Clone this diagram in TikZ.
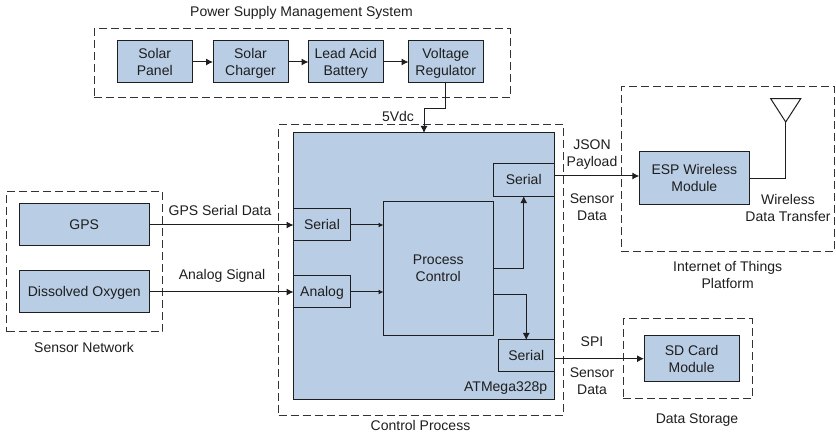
\documentclass[tikz,border=0pt]{standalone}
\usepackage{fontspec}
\setmainfont{Liberation Sans}
\usetikzlibrary{arrows.meta}
\definecolor{boxfill}{HTML}{B9CDE5}
\definecolor{ink}{HTML}{1E1E1E}
\definecolor{dashink}{HTML}{333333}
\newcommand\st{\vrule height 13.2pt depth 3.8pt width 0pt\relax}
\tikzset{
  every node/.style={inner sep=0pt,outer sep=0pt},
  box/.style={draw=ink,fill=boxfill,line width=1pt,align=center,text=ink,font=\fontsize{14}{17}\selectfont},
  group/.style={draw=dashink,line width=1pt,dash pattern=on 8pt off 4pt},
  lbl/.style={align=center,text=ink,font=\fontsize{14}{17}\selectfont},
  conn/.style={draw=ink,line width=1pt,-{Latex[length=7pt,width=7pt]}},
  connsm/.style={draw=ink,line width=1pt,-{Latex[length=5pt,width=5pt]}},
  plain/.style={draw=ink,line width=1pt},
}
\begin{document}
\begin{tikzpicture}[x=1pt,y=-1pt]
\useasboundingbox (0,0) rectangle (836,438);
% groups
\node[group,minimum width=416pt,minimum height=69pt] (gpower) at (302,63.5) {};
\node[group,minimum width=284.5pt,minimum height=291pt] (gctrl) at (420.75,270.5) {};
\node[group,minimum width=156pt,minimum height=140.5pt] (gsens) at (84.5,261.75) {};
\node[group,minimum width=213.3pt,minimum height=165.3pt] (giot) at (727.65,169.35) {};
\node[group,minimum width=129pt,minimum height=80pt] (gsd) at (687.8,359) {};
% boxes
\node[box,minimum width=74.5pt,minimum height=42pt] (panel) at (154.75,62) {\st Solar\\\st Panel};
\node[box,minimum width=75pt,minimum height=42pt] (charger) at (250.5,62) {\st Solar\\\st Charger};
\node[box,minimum width=74.5pt,minimum height=42pt] (battery) at (345.75,62) {\st Lead Acid\\\st Battery};
\node[box,minimum width=74.5pt,minimum height=42pt] (reg) at (445.75,62) {\st Voltage\\\st Regulator};
\node[box,minimum width=261pt,minimum height=267pt] (mcu) at (424,266.5) {};
\node[box,minimum width=129.5pt,minimum height=42pt] (gps) at (84.25,225) {\st GPS};
\node[box,minimum width=129.5pt,minimum height=42pt] (oxy) at (84.25,292) {\st Dissolved Oxygen};
\node[box,minimum width=57pt,minimum height=32pt] (serA) at (322,225) {\st Serial};
\node[box,minimum width=57pt,minimum height=32pt] (ana) at (322,292) {\st Analog};
\node[box,minimum width=109.5pt,minimum height=134pt] (proc) at (438.25,268.5) {\st Process\\\st Control};
\node[box,minimum width=61.5pt,minimum height=32.5pt] (serB) at (523.75,179.9) {\st Serial};
\node[box,minimum width=56.5pt,minimum height=32pt] (serC) at (526.25,356) {\st Serial};
\node[box,minimum width=110pt,minimum height=53.3pt] (esp) at (694.3,178.35) {\st ESP Wireless\\\st Module};
\node[box,minimum width=95.3pt,minimum height=46.3pt] (sd) at (691.65,358.85) {\st SD Card\\\st Module};
% antenna
\coordinate (antTip) at (785.7,122);
\draw[plain,line join=miter] (770.7,98.7) -- (800.7,98.7) -- (antTip) -- cycle;
% connectors
\draw[conn] (panel) -- (charger);
\draw[conn] (charger) -- (battery);
\draw[conn] (battery) -- (reg);
\coordinate (mcuIn) at (424,133);
\draw[conn] (reg.south) -- (445.75,108.5) -- (424,108.5) -- (mcuIn);
\draw[conn] (gps) -- (serA);
\draw[conn] (oxy) -- (ana);
\draw[connsm] (serA) -- (serA -| proc.west);
\draw[connsm] (ana) -- (ana -| proc.west);
\draw[conn] (proc.east |- 0,269) -- (523.75,269) -- (serB.south);
\draw[conn] (proc.east |- 0,294.7) -- (526.25,294.7) -- (serC.north);
\draw[conn] (serB.east |- 0,176) -- (esp.west |- 0,176);
\draw[conn] (serC.east |- 0,358.7) -- (sd.west |- 0,358.7);
\draw[plain] (esp.east |- 0,178.3) -- (785.7,178.3) -- (antTip);
% labels
\node[lbl] (tpower) at (301.5,11.5) {\st Power Supply Management System};
\node[lbl] (t5v) at (398,116.5) {\st 5Vdc};
\node[lbl] (tgps) at (220,211) {\st GPS Serial Data};
\node[lbl] (tana) at (222,275) {\st Analog Signal};
\node[lbl] (tsens) at (84,348) {\st Sensor Network};
\node[lbl] (tctrl) at (420.5,426) {\st Control Process};
\node[lbl] (tjson) at (592,153.5) {\st JSON\\\st Payload};
\node[lbl] (tsd1) at (592,207.5) {\st Sensor\\\st Data};
\node[lbl] (twl) at (788,208.5) {\st Wireless\\\st Data Transfer};
\node[lbl] (tiot) at (727.7,275.5) {\st Internet of Things\\\st Platform};
\node[lbl] (tspi) at (592,342) {\st SPI};
\node[lbl] (tsd2) at (592,381.5) {\st Sensor\\\st Data};
\node[lbl] (tatm) at (505.7,387) {\st ATMega328p};
\node[lbl] (tstore) at (697,419) {\st Data Storage};
\end{tikzpicture}
\end{document}
